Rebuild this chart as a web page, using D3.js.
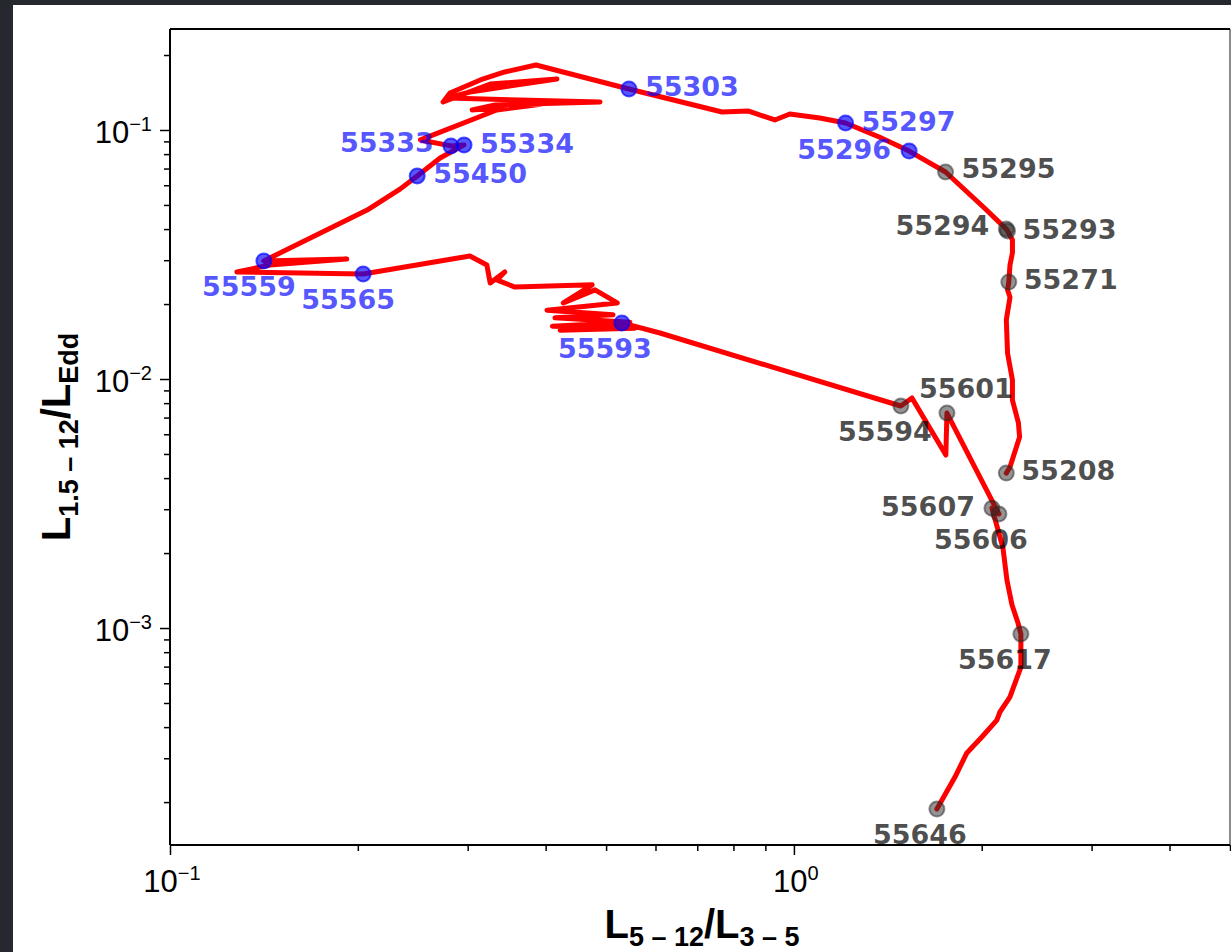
<!DOCTYPE html>
<html>
<head>
<meta charset="utf-8">
<script src="https://cdn.jsdelivr.net/npm/d3@7"></script>
<style>
  html, body { margin: 0; padding: 0; background: #25282e; }
  svg { display: block; }
</style>
</head>
<body>
<svg id="chart" width="1231" height="952"></svg>
<script>
// Daily outburst track, in time order: hardness ratio L(5-12)/L(3-5) and L(1.5-12)/L_Edd
const trackRatio = [
  2.19, 2.22, 2.30, 2.29, 2.24, 2.24, 2.20, 2.19, 2.22, 2.20,
  2.21, 2.22, 2.24, 2.24, 2.20, 2.19, 2.02, 1.75, 1.53, 1.37,
  1.21, 1.10, 0.985, 0.932, 0.844, 0.767, 0.544, 0.386, 0.344, 0.317,
  0.281, 0.274, 0.326, 0.417, 0.3025, 0.279, 0.364, 0.489, 0.332, 0.305,
  0.396, 0.334, 0.252, 0.282, 0.296, 0.271, 0.249, 0.234, 0.207, 0.1414,
  0.192, 0.1446, 0.128, 0.204, 0.3025, 0.322, 0.326, 0.344, 0.334, 0.357,
  0.475, 0.427, 0.480, 0.521, 0.402, 0.513, 0.414, 0.546, 0.410, 0.556,
  0.422, 0.530, 0.610, 1.484, 1.546, 1.752, 1.759, 2.131, 2.077, 2.163,
  2.195, 2.236, 2.286, 2.311, 2.311, 2.219, 2.139, 2.115, 2.001, 1.893,
  1.812, 1.695
];
const trackLum = [
  0.00419, 0.00443, 0.00585, 0.00666, 0.00823, 0.00991, 0.0127, 0.0173, 0.0213, 0.0228,
  0.0245, 0.0287, 0.0321, 0.0362, 0.0393, 0.0400, 0.0486, 0.0678, 0.0823, 0.0937,
  0.1067, 0.1117, 0.1159, 0.1097, 0.1192, 0.1181, 0.1461, 0.1824, 0.1710, 0.1602,
  0.1408, 0.1296, 0.1530, 0.1602, 0.1421, 0.1344, 0.1320, 0.1296, 0.1260, 0.1203,
  0.1272, 0.1203, 0.0912, 0.0863, 0.0871, 0.0772, 0.0654, 0.0580, 0.0477, 0.0298,
  0.0303, 0.0287, 0.0269, 0.0264, 0.0312, 0.0287, 0.0243, 0.0269, 0.0250, 0.0234,
  0.0239, 0.0202, 0.0228, 0.0202, 0.0189, 0.0181, 0.0176, 0.0169, 0.0163, 0.0160,
  0.0157, 0.0168, 0.0153, 0.00779, 0.00839, 0.00495, 0.00730, 0.00287, 0.00303, 0.00210,
  0.00156, 0.00124, 0.00105, 0.000946, 0.000697, 0.000528, 0.000460, 0.000427, 0.000365, 0.000315,
  0.000252, 0.0001875
];

// Annotated days (MJD) and their state
const markMjd   = [55208, 55271, 55293, 55294, 55295, 55296, 55297, 55303, 55333, 55334,
                   55450, 55559, 55565, 55593, 55594, 55601, 55606, 55607, 55617, 55646];
const markRatio = [2.19, 2.21, 2.20, 2.19, 1.75, 1.53, 1.21, 0.544, 0.282, 0.296,
                   0.249, 0.1414, 0.204, 0.530, 1.484, 1.759, 2.131, 2.077, 2.311, 1.695];
const markLum   = [0.00419, 0.0245, 0.0393, 0.0400, 0.0678, 0.0823, 0.1067, 0.1461, 0.0863, 0.0871,
                   0.0654, 0.0298, 0.0264, 0.0168, 0.00779, 0.00730, 0.00287, 0.00303, 0.000946, 0.0001875];
const markState = ["hard", "hard", "hard", "hard", "hard", "soft", "soft", "soft", "soft", "soft",
                   "soft", "soft", "soft", "soft", "hard", "hard", "hard", "hard", "hard", "hard"];

// Axis ranges and tick values
const xDomain = [0.1, 5.0];
const yDomain = [1.345e-4, 0.2544];
const xMajor = [0.1, 1];
const yMajor = [0.001, 0.01, 0.1];

// Label placement around each annotated point (offset from marker, anchor)
const labelPlacement = {
  55208: [15, 7, "start"],  55271: [15, 7, "start"],  55293: [15, 8, "start"],
  55294: [-17, 6, "end"],   55295: [16, 6, "start"],  55296: [-18, 8, "end"],
  55297: [16, 8, "start"],  55303: [16, 7, "start"],  55333: [-17, 6, "end"],
  55334: [16, 8, "start"],  55450: [16, 7, "start"],  55559: [-15, 35, "middle"],
  55565: [-15, 35, "middle"], 55593: [-17, 35, "middle"], 55594: [-16, 35, "middle"],
  55601: [19, -15, "middle"], 55606: [-18, 35, "middle"], 55607: [-17, 8, "end"],
  55617: [-16, 35, "middle"], 55646: [-17, 35, "middle"]
};

const svg = d3.select("#chart");
const W = 1231, H = 952;
const plot = { left: 170, right: 1230, top: 29, bottom: 845 };

// page background and white card
svg.append("rect").attr("width", W).attr("height", H).attr("fill", "#25282e");
svg.append("rect").attr("x", 13).attr("y", 5).attr("width", W - 13).attr("height", H - 5).attr("fill", "#ffffff");

const x = d3.scaleLog().domain(xDomain).range([plot.left, plot.right]);
const y = d3.scaleLog().domain(yDomain).range([plot.bottom, plot.top]);

const tickFont = "'Liberation Sans', Arial, Helvetica, sans-serif";

// minor tick values inside the domain
function minorTicks(domain) {
  const out = [];
  const lo = Math.floor(Math.log10(domain[0])), hi = Math.ceil(Math.log10(domain[1]));
  for (let e = lo; e <= hi; e++) {
    for (let m = 2; m <= 9; m++) {
      const v = m * Math.pow(10, e);
      if (v >= domain[0] && v <= domain[1]) out.push(v);
    }
  }
  return out;
}

// axes
const xAxis = d3.axisBottom(x).tickValues(xMajor).tickSize(10).tickFormat("");
const xAxisMinor = d3.axisBottom(x).tickValues(minorTicks(xDomain)).tickSize(6).tickFormat("");
const yAxis = d3.axisLeft(y).tickValues(yMajor).tickSize(10).tickFormat("");
const yAxisMinor = d3.axisLeft(y).tickValues(minorTicks(yDomain)).tickSize(6).tickFormat("");

function styleAxis(g) {
  g.select(".domain").remove();
  g.selectAll(".tick line").attr("stroke", "#000").attr("stroke-width", 1.5);
}
svg.append("g").attr("transform", `translate(0,${plot.bottom})`).call(xAxis).call(styleAxis);
svg.append("g").attr("transform", `translate(0,${plot.bottom})`).call(xAxisMinor).call(styleAxis);
svg.append("g").attr("transform", `translate(${plot.left},0)`).call(yAxis).call(styleAxis);
svg.append("g").attr("transform", `translate(${plot.left},0)`).call(yAxisMinor).call(styleAxis);

// frame
svg.append("line").attr("x1", plot.left).attr("x2", plot.right).attr("y1", plot.bottom).attr("y2", plot.bottom)
  .attr("stroke", "#000").attr("stroke-width", 2);
svg.append("line").attr("x1", plot.left).attr("x2", plot.right).attr("y1", plot.top).attr("y2", plot.top)
  .attr("stroke", "#000").attr("stroke-width", 2);
svg.append("line").attr("x1", plot.left).attr("x2", plot.left).attr("y1", plot.top).attr("y2", plot.bottom)
  .attr("stroke", "#000").attr("stroke-width", 2);
svg.append("line").attr("x1", plot.right).attr("x2", plot.right).attr("y1", plot.top).attr("y2", plot.bottom)
  .attr("stroke", "#000").attr("stroke-width", 1.5).attr("opacity", 0.6);

// power-of-ten tick labels
function powerLabel(sel, v) {
  const e = Math.round(Math.log10(v));
  sel.append("tspan").text("10");
  sel.append("tspan").attr("font-size", 20).attr("dy", -12)
    .text(e < 0 ? "\u2212" + (-e) : String(e));
}
xMajor.forEach(v => {
  const t = svg.append("text").attr("x", x(v) + 2).attr("y", plot.bottom + 47)
    .attr("text-anchor", "middle").attr("font-family", tickFont).attr("font-size", 31).attr("fill", "#000");
  powerLabel(t, v);
});
yMajor.forEach(v => {
  const t = svg.append("text").attr("x", plot.left - 18).attr("y", y(v) + 13)
    .attr("text-anchor", "end").attr("font-family", tickFont).attr("font-size", 31).attr("fill", "#000");
  powerLabel(t, v);
});

// axis titles with subscripts
const xt = svg.append("text").attr("x", 702).attr("y", 938).attr("text-anchor", "middle")
  .attr("font-family", tickFont).attr("font-weight", "bold").attr("fill", "#000");
xt.append("tspan").attr("font-size", 40).text("L");
xt.append("tspan").attr("font-size", 27).attr("dy", 8).text("5 \u2013 12");
xt.append("tspan").attr("font-size", 40).attr("dy", -8).text("/L");
xt.append("tspan").attr("font-size", 27).attr("dy", 8).text("3 \u2013 5");

const yt = svg.append("text").attr("transform", "translate(70,437) rotate(-90)").attr("text-anchor", "middle")
  .attr("font-family", tickFont).attr("font-weight", "bold").attr("fill", "#000");
yt.append("tspan").attr("font-size", 40).text("L");
yt.append("tspan").attr("font-size", 27).attr("dy", 8).text("1.5 \u2013 12");
yt.append("tspan").attr("font-size", 40).attr("dy", -8).text("/L");
yt.append("tspan").attr("font-size", 27).attr("dy", 8).text("Edd");

// the track
const line = d3.line().x(d => x(d[0])).y(d => y(d[1]));
const track = trackRatio.map((r, i) => [r, trackLum[i]]);
svg.append("path").datum(track).attr("d", line)
  .attr("fill", "none").attr("stroke", "#ff0000").attr("stroke-width", 5)
  .attr("stroke-linejoin", "round").attr("stroke-linecap", "round");

// annotated points
const marks = markMjd.map((m, i) => ({ mjd: m, r: markRatio[i], l: markLum[i], state: markState[i] }));
const markColor = { soft: "rgba(0,0,255,0.66)", hard: "rgba(40,40,40,0.5)" };
const textColor = { soft: "rgba(0,0,255,0.68)", hard: "rgba(0,0,0,0.7)" };

svg.append("g").selectAll("circle").data(marks).join("circle")
  .attr("cx", d => x(d.r)).attr("cy", d => y(d.l)).attr("r", 7.5)
  .attr("fill", d => markColor[d.state]).attr("stroke", d => markColor[d.state]).attr("stroke-width", 2);

svg.append("g").selectAll("text").data(marks).join("text")
  .attr("x", d => x(d.r) + labelPlacement[d.mjd][0])
  .attr("y", d => y(d.l) + labelPlacement[d.mjd][1])
  .attr("text-anchor", d => labelPlacement[d.mjd][2])
  .attr("font-family", "'DejaVu Sans', sans-serif").attr("font-weight", "bold").attr("font-size", 27)
  .attr("fill", d => textColor[d.state])
  .text(d => d.mjd);
</script>
</body>
</html>
